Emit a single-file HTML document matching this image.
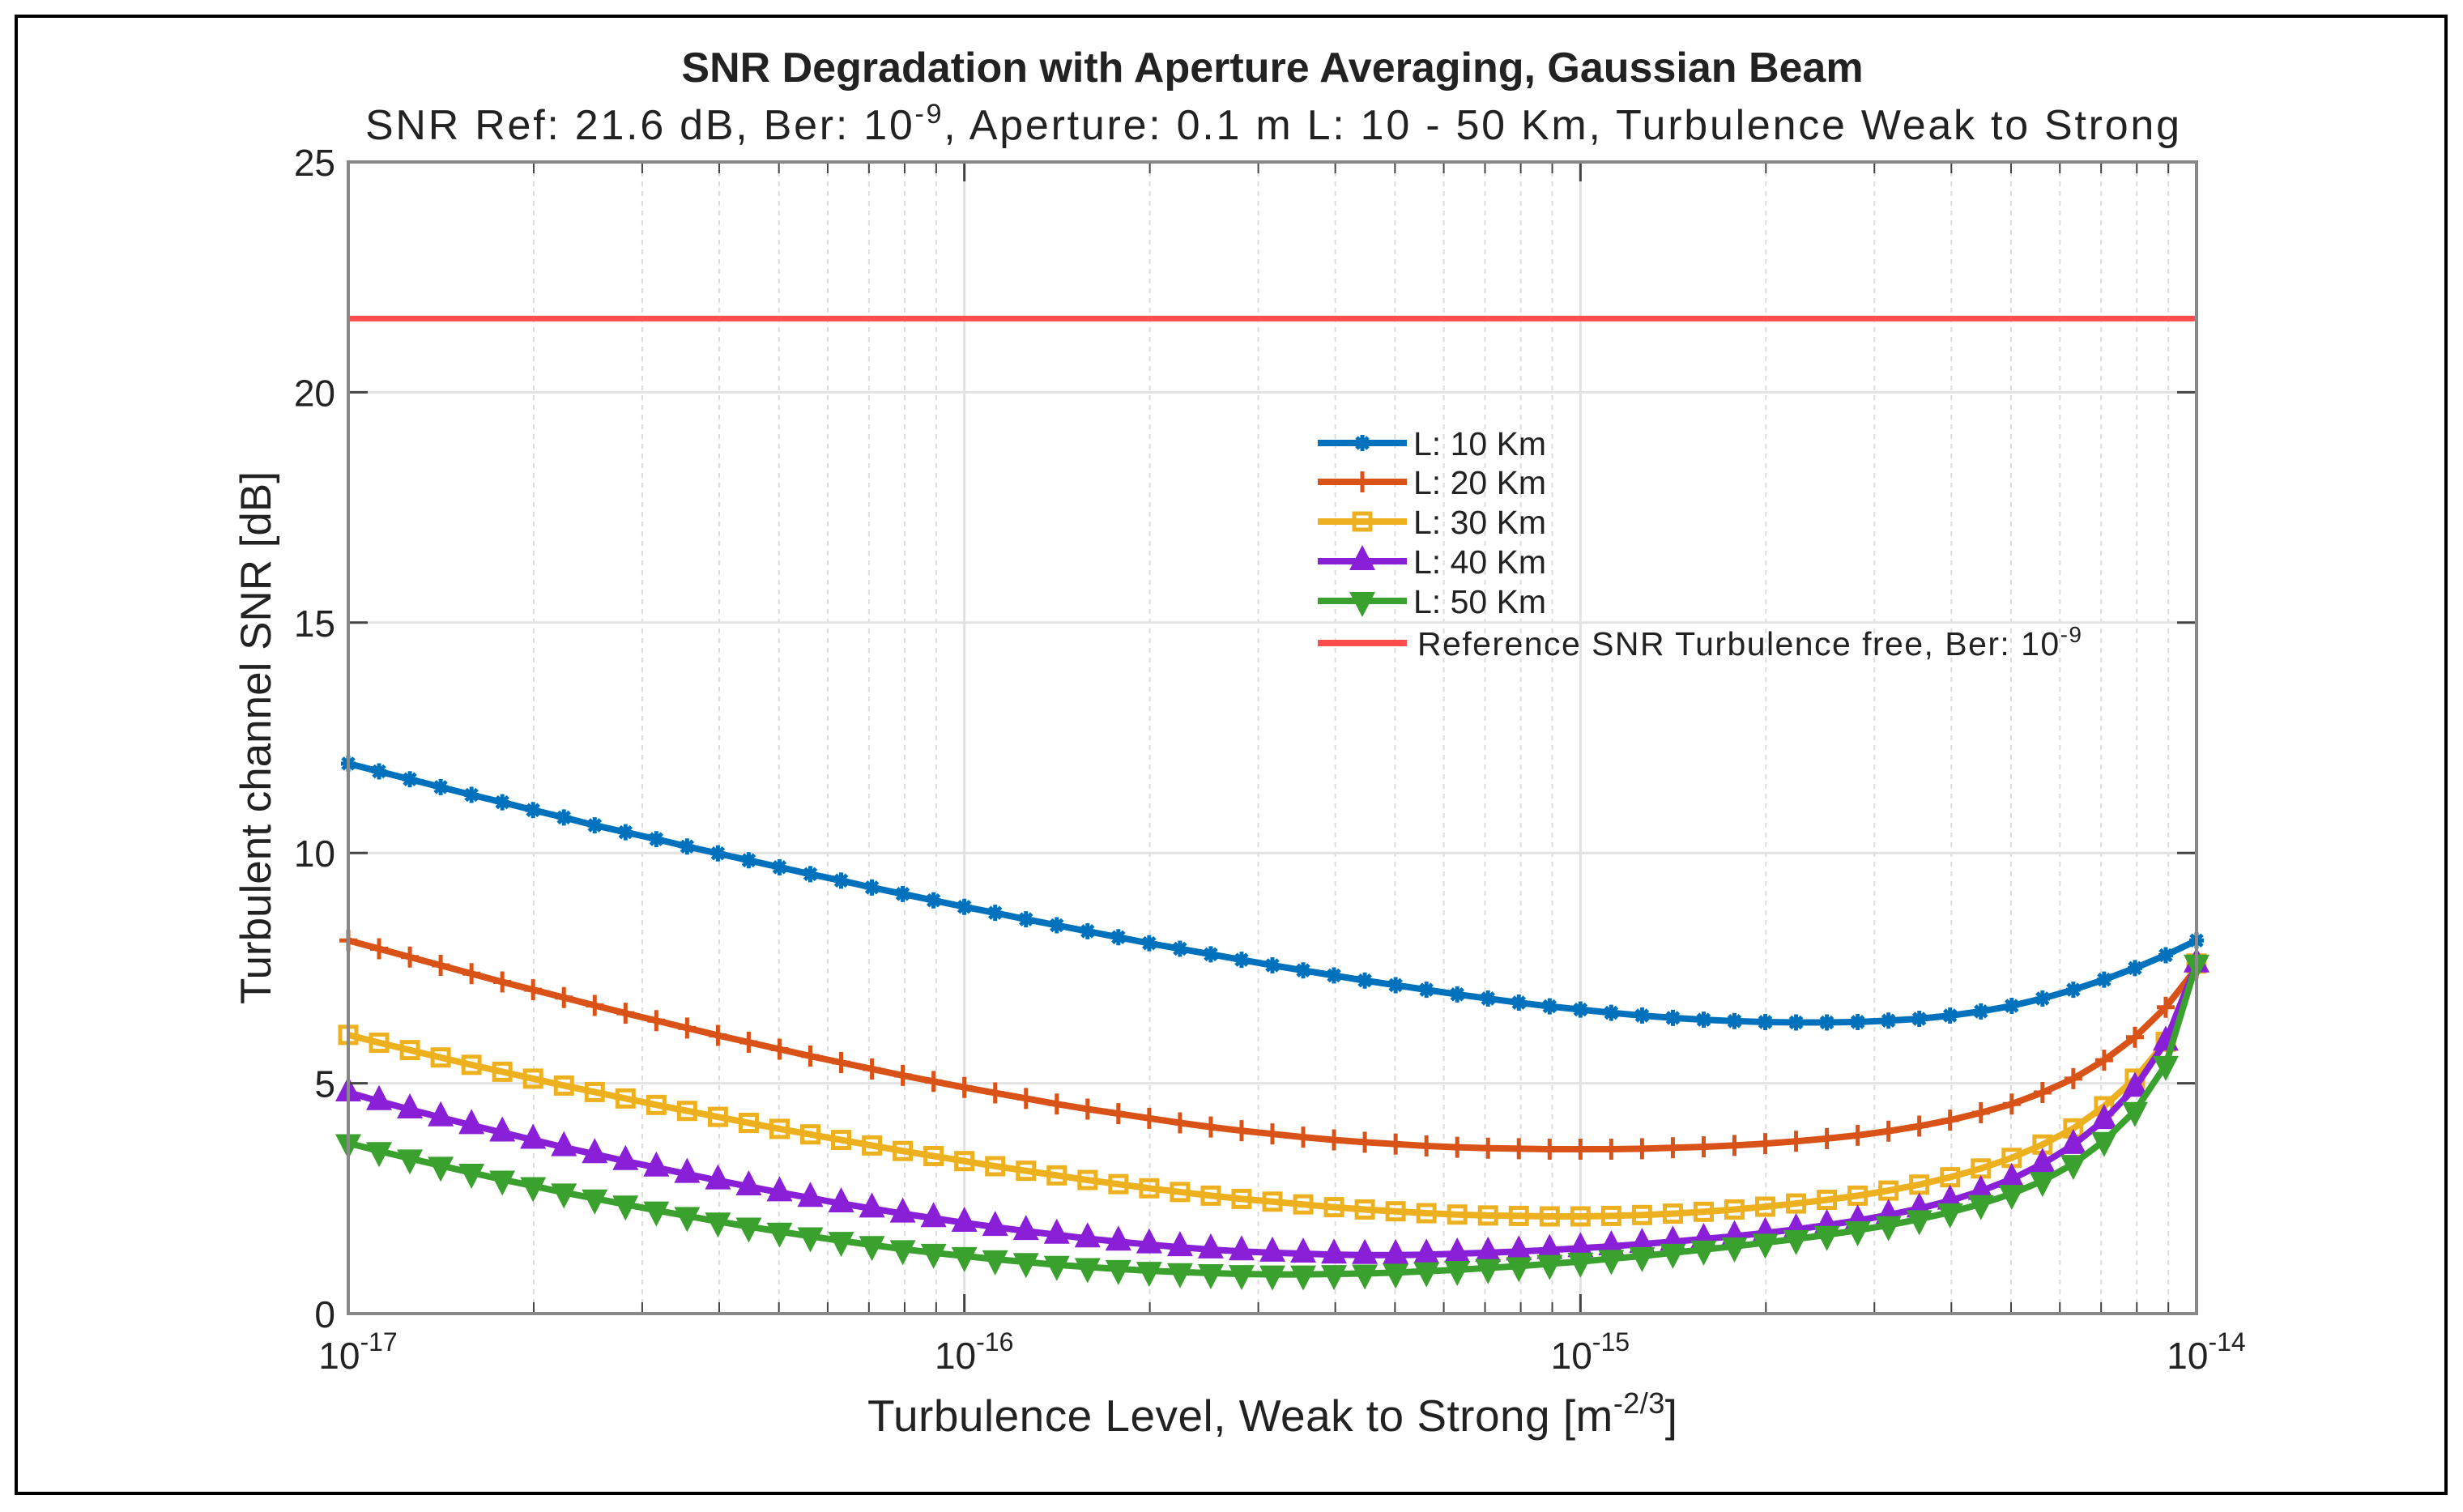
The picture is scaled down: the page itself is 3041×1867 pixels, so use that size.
<!DOCTYPE html>
<html><head><meta charset="utf-8"><style>
html,body{margin:0;padding:0;background:#fff}
svg{display:block;font-family:"Liberation Sans",Arial,sans-serif}
</style></head><body>
<svg id="chart" width="3041" height="1867" viewBox="0 0 3041 1867">
<rect x="0" y="0" width="3041" height="1867" fill="#fff"/>
<rect x="20" y="20" width="3000" height="1824" fill="none" stroke="#000" stroke-width="4"/>
<text x="1571" y="101" text-anchor="middle" font-size="52" font-weight="bold" fill="#222">SNR Degradation with Aperture Averaging, Gaussian Beam</text>
<text x="1571" y="172" text-anchor="middle" font-size="52" fill="#222" textLength="2240" lengthAdjust="spacing">SNR Ref: 21.6 dB, Ber: 10<tspan dy="-20" font-size="34">-9</tspan><tspan dy="20">, Aperture: 0.1 m L: 10 - 50 Km, Turbulence Weak to Strong</tspan></text>
<g id="grid"></g>
<g id="series"></g>
<g id="axes"></g>
<g id="legend"></g>
<text x="1571" y="1767" text-anchor="middle" font-size="55" fill="#222" textLength="1000" lengthAdjust="spacing">Turbulence Level, Weak to Strong [m<tspan dy="-22" font-size="36">-2/3</tspan><tspan dy="22">]</tspan></text>
<text transform="translate(334,911) rotate(-90)" text-anchor="middle" font-size="53" fill="#222">Turbulent channel SNR [dB]</text>
</svg>
<script>
const xExpStart = -17;
const xDecadeStep = 0.05;
const yTicks = [0,5,10,15,20,25];
const xTickExps = [-17,-16,-15,-14];
const refSNR = 21.6;
const L10 = [11.94,11.77,11.6,11.43,11.26,11.1,10.93,10.77,10.6,10.45,10.3,10.14,9.99,9.84,9.69,9.54,9.4,9.25,9.11,8.97,8.83,8.7,8.56,8.43,8.3,8.17,8.04,7.92,7.8,7.68,7.56,7.45,7.34,7.23,7.13,7.03,6.93,6.84,6.75,6.67,6.6,6.53,6.47,6.42,6.38,6.35,6.33,6.32,6.32,6.33,6.36,6.4,6.47,6.56,6.68,6.84,7.03,7.25,7.5,7.78,8.1];
const L20 = [8.1,7.92,7.74,7.56,7.38,7.2,7.03,6.86,6.69,6.52,6.36,6.2,6.04,5.89,5.74,5.59,5.45,5.31,5.17,5.04,4.91,4.79,4.67,4.55,4.44,4.34,4.24,4.14,4.05,3.97,3.9,3.83,3.77,3.72,3.68,3.64,3.61,3.59,3.58,3.57,3.57,3.57,3.58,3.6,3.62,3.65,3.69,3.74,3.8,3.87,3.96,4.07,4.2,4.36,4.55,4.8,5.1,5.5,6.0,6.65,7.5];
const L30 = [6.05,5.88,5.72,5.56,5.4,5.25,5.1,4.95,4.81,4.67,4.53,4.4,4.27,4.14,4.01,3.89,3.77,3.65,3.53,3.42,3.31,3.2,3.1,3.0,2.9,2.81,2.72,2.64,2.56,2.49,2.43,2.37,2.31,2.26,2.22,2.18,2.15,2.13,2.12,2.11,2.11,2.12,2.14,2.17,2.21,2.26,2.32,2.39,2.47,2.56,2.67,2.8,2.96,3.15,3.38,3.67,4.02,4.5,5.1,5.9,7.6];
const L40 = [4.8,4.61,4.43,4.26,4.09,3.93,3.77,3.61,3.46,3.31,3.17,3.03,2.89,2.76,2.63,2.51,2.39,2.28,2.17,2.07,1.97,1.88,1.79,1.71,1.63,1.56,1.5,1.44,1.39,1.35,1.32,1.3,1.28,1.27,1.27,1.28,1.3,1.32,1.35,1.38,1.42,1.46,1.51,1.56,1.62,1.68,1.75,1.83,1.92,2.02,2.14,2.28,2.45,2.66,2.92,3.25,3.66,4.2,4.9,5.9,7.6];
const L50 = [3.7,3.53,3.37,3.21,3.06,2.91,2.77,2.63,2.5,2.37,2.24,2.12,2.0,1.89,1.78,1.68,1.58,1.49,1.4,1.32,1.25,1.18,1.12,1.06,1.01,0.97,0.93,0.9,0.88,0.86,0.85,0.85,0.86,0.87,0.89,0.92,0.95,0.99,1.03,1.08,1.13,1.19,1.25,1.32,1.39,1.46,1.54,1.62,1.71,1.81,1.92,2.05,2.2,2.38,2.6,2.88,3.25,3.75,4.4,5.4,7.6];
const seriesLabels = ["L: 10 Km","L: 20 Km","L: 30 Km","L: 40 Km","L: 50 Km"];

const NS="http://www.w3.org/2000/svg";
const PL=430, PR=2712, PT=200, PB=1622;
const xMinE=-17, xMaxE=-14, yMax=25;
function sx(e){return PL+(e-xMinE)/(xMaxE-xMinE)*(PR-PL);}
function sy(v){return PB-v/yMax*(PB-PT);}
function mk(tag,attrs,parent){const el=document.createElementNS(NS,tag);for(const k in attrs)el.setAttribute(k,attrs[k]);parent.appendChild(el);return el;}
const grid=document.getElementById('grid'), axes=document.getElementById('axes'), ser=document.getElementById('series'), leg=document.getElementById('legend');

for(let d=-17; d<-14; d++){
  for(let m=2;m<=9;m++){
    const x=sx(d+Math.log10(m));
    const l=mk('line',{x1:x,x2:x,y1:PT,y2:PB,stroke:'#dcdcdc','stroke-width':2,'stroke-dasharray':'6,6'},grid);
    
    
    for(const yy of [[PB,PB-14],[PT,PT+14]]){
      const t=mk('line',{x1:x,x2:x,y1:yy[0],y2:yy[1],stroke:'#444','stroke-width':2},axes);
      
      
    }
  }
}
xTickExps.forEach(e=>{
  const x=sx(e);
  const l=mk('line',{x1:x,x2:x,y1:PT,y2:PB,stroke:'#e2e2e2','stroke-width':3},grid);
  
  
  for(const yy of [[PB,PB-24],[PT,PT+24]]){
    const t=mk('line',{x1:x,x2:x,y1:yy[0],y2:yy[1],stroke:'#444','stroke-width':3},axes);
    
    
  }
  const tx=mk('text',{x:x+12,y:PB+68,'text-anchor':'middle','font-size':46,fill:'#222'},axes);
  
  
  tx.textContent='10';
  const sp=mk('tspan',{dy:-22,'font-size':32},tx); sp.textContent=String(e);
});
yTicks.forEach(v=>{
  const y=sy(v);
  const l=mk('line',{x1:PL,x2:PR,y1:y,y2:y,stroke:'#e2e2e2','stroke-width':3},grid);
  
  
  for(const xx of [[PL,PL+24],[PR,PR-24]]){
    const t=mk('line',{x1:xx[0],x2:xx[1],y1:y,y2:y,stroke:'#444','stroke-width':3},axes);
    
    
  }
  const tx=mk('text',{x:PL-16,y:y+17,'text-anchor':'end','font-size':46,fill:'#222'},axes);
  
  
  tx.textContent=String(v);
});
const frame=mk('rect',{x:PL,y:PT,width:PR-PL,height:PB-PT,fill:'none',stroke:'#888','stroke-width':4},axes);



const ref=mk('line',{x1:PL,x2:PR,y1:sy(refSNR),y2:sy(refSNR),stroke:'#FF4D4D','stroke-width':7},ser);



const colors=['#0072BD','#D95319','#EDB120','#8A1FD8','#3BA12E'];
const markers=['star','plus','square','up','down'];
function drawMarker(kind,x,y,c,g){
  let el;
  if(kind==='star'){el=mk('path',{d:`M${x-9},${y}L${x+9},${y}M${x},${y-10}L${x},${y+10}M${x-7},${y-7}L${x+7},${y+7}M${x-7},${y+7}L${x+7},${y-7}`,stroke:c,'stroke-width':5,fill:'none'},g);}
  else if(kind==='plus'){el=mk('path',{d:`M${x-11},${y}L${x+11},${y}M${x},${y-13}L${x},${y+13}`,stroke:c,'stroke-width':5,fill:'none'},g);}
  else if(kind==='square'){el=mk('rect',{x:x-10,y:y-10,width:20,height:20,stroke:c,'stroke-width':5,fill:'none'},g);}
  else if(kind==='up'){el=mk('path',{d:`M${x},${y-20}L${x+16},${y+11}L${x-16},${y+11}Z`,fill:c},g);}
  else {el=mk('path',{d:`M${x},${y+20}L${x+16},${y-11}L${x-16},${y-11}Z`,fill:c},g);}
  return el;
}
[L10,L20,L30,L40,L50].forEach((arr,i)=>{
  const g=mk('g',{},ser);
  
  
  const pts=arr.map((v,k)=>[sx(xExpStart+k*xDecadeStep),sy(v)]);
  const pl=mk('polyline',{points:pts.map(p=>p.join(',')).join(' '),fill:'none',stroke:colors[i],'stroke-width':8,'stroke-linejoin':'round'},g);
  
  
  pts.forEach(p=>{
    const m=drawMarker(markers[i],p[0],p[1],colors[i],g);
    
    
  });
});

const legRows=[547,595,644,693,742];
seriesLabels.forEach((lab,i)=>{
  const y=legRows[i];
  const l=mk('line',{x1:1627,x2:1737,y1:y,y2:y,stroke:colors[i],'stroke-width':8},leg);
  
  
  const m=drawMarker(markers[i],1682,y,colors[i],leg);
  
  
  const t=mk('text',{x:1745,y:y+15,'font-size':41,fill:'#222'},leg);
  
  
  t.textContent=lab;
});
const rl=mk('line',{x1:1627,x2:1737,y1:794,y2:794,stroke:'#FF4D4D','stroke-width':8},leg);


const rt=mk('text',{x:1750,y:809,'font-size':41,fill:'#222',textLength:820,lengthAdjust:'spacing'},leg);


rt.textContent='Reference SNR Turbulence free, Ber: 10';
const rs=mk('tspan',{dy:-16,'font-size':28},rt); rs.textContent='-9';
</script>
</body></html>
